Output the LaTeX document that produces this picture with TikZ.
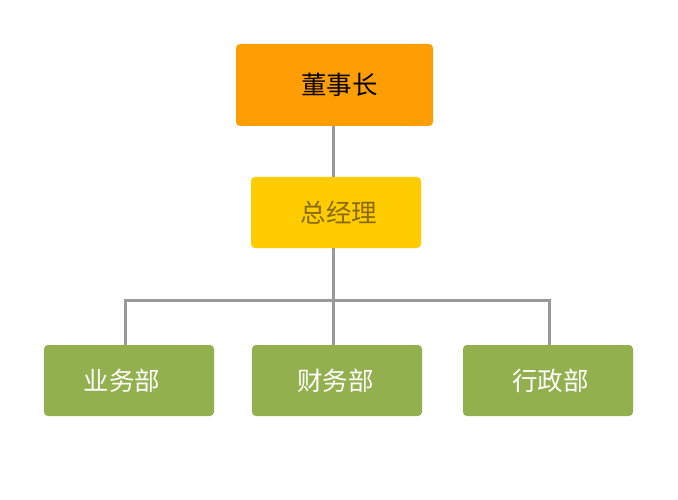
\documentclass[tikz,border=0pt]{standalone}
\usepackage{fontspec}
\newfontfamily\cjk{Noto Sans CJK SC}
\usetikzlibrary{calc}
\definecolor{chairorange}{HTML}{FF9E02}
\definecolor{gmyellow}{HTML}{FFCC00}
\definecolor{gmtext}{HTML}{8A6A00}
\definecolor{deptgreen}{HTML}{92B04E}
\definecolor{linkgray}{HTML}{999999}
\tikzset{
	box/.style={rounded corners=4pt, inner sep=0pt, minimum width=170pt, minimum height=71pt, font=\cjk\fontsize{25.5}{25.5}\selectfont},
	dept/.style={box, fill=deptgreen, text=white},
	link/.style={line width=3pt, color=linkgray}
}

\begin{document}
\begin{tikzpicture}[x=1pt, y=-1pt]
		%%%%% START %%%%%
		
		\useasboundingbox[fill=white] (0, 0) rectangle (678, 500);
		
		\node[box, fill=chairorange, text=black, minimum width=197pt, minimum height=82pt] (chairman) at (334.5, 85) {\hspace{10pt}董事长};
		\node[box, fill=gmyellow, text=gmtext] (gm) at (336, 212.5) {\hspace{6pt}总经理};
		
		\node[dept] (sales) at (129, 380.5) {业务部\kern14pt};
		\node[dept] (finance) at (337, 380.5) {财务部\kern3pt};
		\node[dept] (admin) at (548, 380.5) {\hspace{5pt}行政部};
		
		\coordinate (hub) at (333, 300);
		
		\draw[link] (hub |- chairman.south) -- (hub |- gm.north);
		\draw[link] (hub |- gm.south) -- (hub);
		\draw[link] ($(sales.north)+(-4, 0)$) |- (hub) -| ($(admin.north)+(1, 0)$);
		\draw[link] (hub) -- (hub |- finance.north);
		
		%%%%% END %%%%%
\end{tikzpicture}
\end{document}
